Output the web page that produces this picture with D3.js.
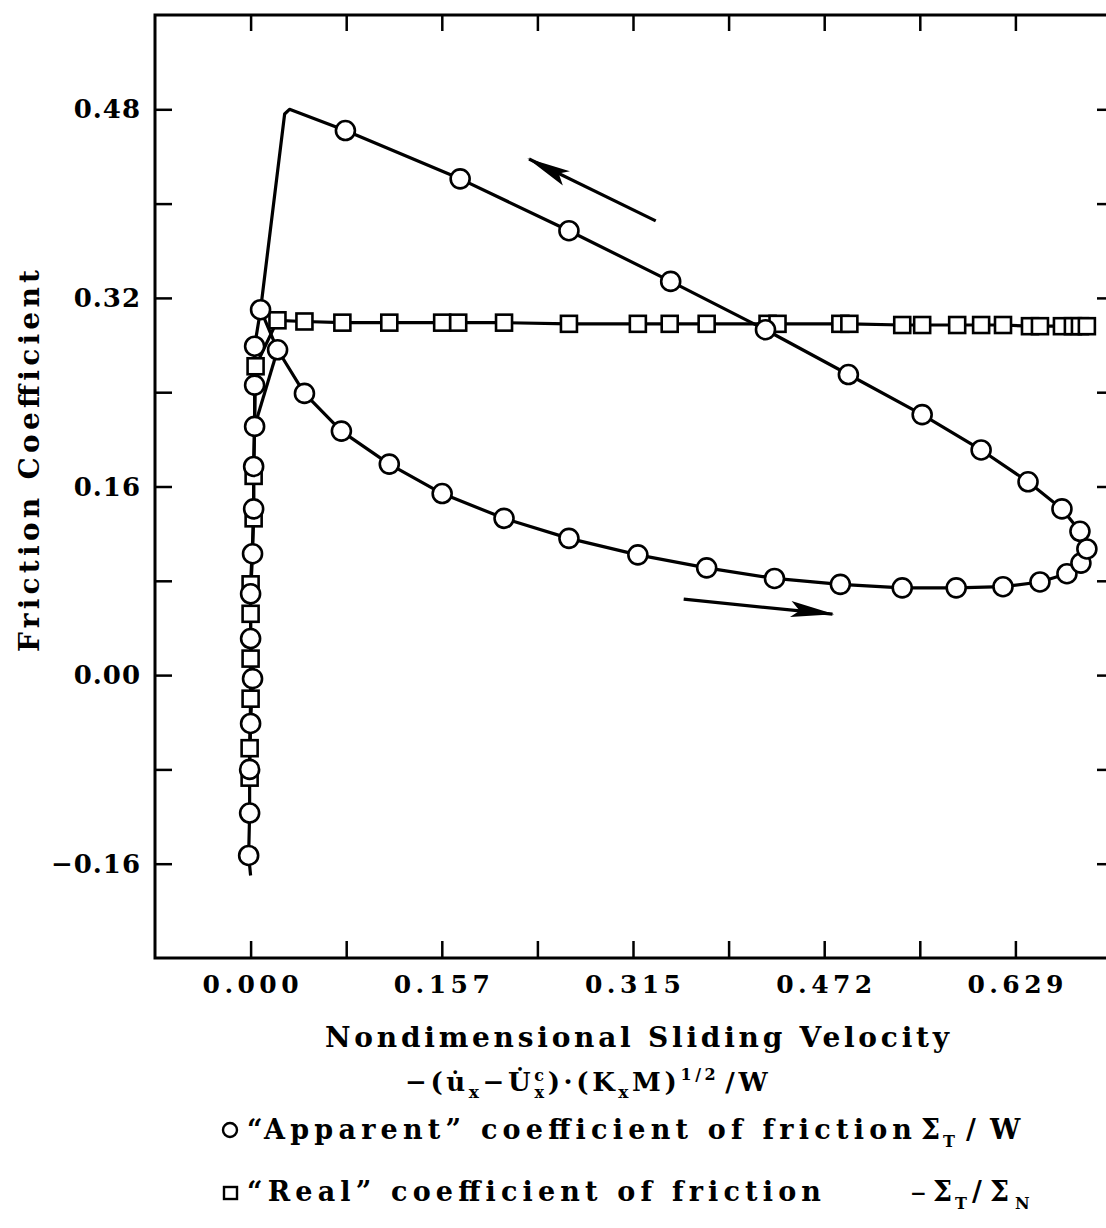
<!DOCTYPE html>
<html><head><meta charset="utf-8">
<script src="https://cdn.jsdelivr.net/npm/d3@7"></script>
<style>
html,body{margin:0;padding:0;background:#fff;}
svg{display:block;}
text{font-family:"DejaVu Serif",serif;font-weight:bold;fill:#000;}
</style></head><body>
<svg id="chart" width="1106" height="1228"></svg>
<script>
// ---- data ----
const xStep = 0.07865;
const xTickIndex = [-1,0,1,2,3,4,5,6,7,8,9];
const xLabelValues = [0, 0.1573, 0.3146, 0.4719, 0.6292];
const xTickLabels = ["0.000","0.157","0.315","0.472","0.629"];
const yTickValues = [-0.16,-0.08,0,0.08,0.16,0.24,0.32,0.40,0.48];
const yLabelValues = [-0.16,0,0.16,0.32,0.48];
const yTickLabels = ["\u22120.16","0.00","0.16","0.32","0.48"];

// "Apparent" coefficient (circles): ordered path
const appX = [0.0000,-0.0016,-0.0008,-0.0008,0.0000,0.0016,0.0000,0.0000,0.0016,0.0025,0.0025,0.0033,0.0033,0.0033,0.0082,0.0222,0.0443,0.0747,0.1141,0.1576,0.2085,0.2619,0.3186,0.3752,0.4310,0.4852,0.5361,0.5805,0.6190,0.6494,0.6716,0.6831,0.6880,0.6823,0.6675,0.6396,0.6010,0.5525,0.4918,0.4236,0.3456,0.2619,0.1724,0.0780,0.0320,0.0280,0.0082];
const appY = [-0.170,-0.153,-0.117,-0.080,-0.041,-0.003,0.031,0.069,0.103,0.141,0.177,0.211,0.246,0.279,0.310,0.276,0.239,0.207,0.179,0.154,0.133,0.116,0.102,0.091,0.082,0.077,0.074,0.074,0.075,0.079,0.086,0.095,0.107,0.122,0.141,0.164,0.191,0.221,0.255,0.293,0.334,0.377,0.421,0.462,0.480,0.476,0.310];
const appMark = [0,1,1,1,1,1,1,1,1,1,1,1,1,1,1,1,1,1,1,1,1,1,1,1,1,1,1,1,1,1,1,1,1,1,1,1,1,1,1,1,1,1,1,1,0,0,0];
const appLinkX = [0.0033, 0.0222];
const appLinkY = [0.211, 0.276];

// "Real" coefficient (squares)
const realX = [-0.0008,-0.0008,0.0000,0.0000,0.0000,0.0000,0.0025,0.0025,0.0041,0.0221,0.0443,0.0755,0.1141,0.1576,0.1708,0.2085,0.2619,0.3186,0.3448,0.3752,0.4253,0.4335,0.4852,0.4926,0.5361,0.5525,0.5813,0.6010,0.6190,0.6412,0.6494,0.6675,0.6765,0.6823,0.6880];
const realY = [-0.087,-0.062,-0.020,0.014,0.052,0.077,0.133,0.169,0.262,0.301,0.300,0.299,0.299,0.299,0.299,0.299,0.298,0.298,0.298,0.298,0.298,0.298,0.298,0.298,0.297,0.297,0.297,0.297,0.297,0.296,0.296,0.296,0.296,0.296,0.296];

// direction arrows (data coordinates)
const arrowFromX = [0.3333, 0.3563];
const arrowFromY = [0.3853, 0.0644];
const arrowToX = [0.2291, 0.4787];
const arrowToY = [0.4378, 0.0517];

// ---- drawing ----
const svg = d3.select("#chart");
const x = d3.scaleLinear().domain([-xStep, 9*xStep]).range([155, 1111]);
const y = d3.scaleLinear().domain([-0.24, 0.56]).range([958, 15]);

// frame
svg.append("rect").attr("x",155).attr("y",15).attr("width",1111-155).attr("height",958-15)
  .attr("fill","none").attr("stroke","#000").attr("stroke-width",3);

const tickVals = xTickIndex.slice(1,-1).map(i=>i*xStep);
function styleAxis(g){ g.select(".domain").remove(); g.selectAll("line").attr("stroke","#000").attr("stroke-width",2.5); g.selectAll("text").remove(); }
svg.append("g").attr("transform","translate(0,958)").call(d3.axisBottom(x).tickValues(tickVals).tickSize(-17)).call(styleAxis);
svg.append("g").attr("transform","translate(0,15)").call(d3.axisTop(x).tickValues(tickVals).tickSize(-16)).call(styleAxis);
svg.append("g").attr("transform","translate(155,0)").call(d3.axisLeft(y).tickValues(yTickValues).tickSize(-17)).call(styleAxis);
svg.append("g").attr("transform","translate(1111,0)").call(d3.axisRight(y).tickValues(yTickValues).tickSize(-14)).call(styleAxis);

// tick labels
svg.append("g").selectAll("text").data(xLabelValues).join("text")
  .attr("x",d=>x(d)).attr("y",993).attr("text-anchor","middle")
  .attr("font-size",25).attr("textLength",96).attr("lengthAdjust","spacing")
  .text((d,i)=>xTickLabels[i]);
svg.append("g").selectAll("text").data(yLabelValues).join("text")
  .attr("x",141).attr("y",d=>y(d)+9).attr("text-anchor","end")
  .attr("font-size",26).attr("letter-spacing",1)
  .text((d,i)=>yTickLabels[i]);

// axis titles
svg.append("text").attr("transform","translate(39,461) rotate(-90)").attr("text-anchor","middle")
  .attr("font-size",28).attr("textLength",382).attr("lengthAdjust","spacing").text("Friction Coefficient");
svg.append("text").attr("x",637).attr("y",1047).attr("text-anchor","middle")
  .attr("font-size",28).attr("textLength",624).attr("lengthAdjust","spacing").text("Nondimensional Sliding Velocity");

// formula
const f = svg.append("text").attr("x",405).attr("y",1091).attr("font-size",26).attr("letter-spacing",3.6);
f.append("tspan").text("\u2212(u\u0307");
f.append("tspan").attr("font-size",17).attr("dy",7).text("x");
f.append("tspan").attr("dy",-7).text("\u2212U\u0307");
f.append("tspan").attr("font-size",16).attr("dy",-10).text("c");
f.append("tspan").attr("font-size",16).attr("dx",-13).attr("dy",17).text("x");
f.append("tspan").attr("dy",-7).text(")\u00b7(K");
f.append("tspan").attr("font-size",17).attr("dy",7).text("x");
f.append("tspan").attr("dy",-7).text("M)");
f.append("tspan").attr("font-size",16).attr("dy",-11).text("1/2");
f.append("tspan").attr("dy",11).attr("dx",6).text("/W");

// legend
const leg1Y = 1139, leg2Y = 1201;
svg.append("circle").attr("cx",230).attr("cy",leg1Y-9).attr("r",7).attr("fill","#fff").attr("stroke","#000").attr("stroke-width",2.4);
svg.append("text").attr("x",247).attr("y",leg1Y).attr("font-size",27).attr("textLength",665).attr("lengthAdjust","spacing")
  .text("\u201cApparent\u201d coefficient of friction");
svg.append("text").attr("x",921).attr("y",leg1Y).attr("font-size",27).text("\u03a3");
svg.append("text").attr("x",943).attr("y",leg1Y+8).attr("font-size",16).text("T");
svg.append("text").attr("x",966).attr("y",leg1Y).attr("font-size",27).text("/");
svg.append("text").attr("x",990).attr("y",leg1Y).attr("font-size",27).text("W");

svg.append("rect").attr("x",224).attr("y",leg2Y-14).attr("width",13).attr("height",12).attr("fill","#fff").attr("stroke","#000").attr("stroke-width",2.4);
svg.append("text").attr("x",247).attr("y",leg2Y).attr("font-size",27).attr("textLength",574).attr("lengthAdjust","spacing")
  .text("\u201cReal\u201d coefficient of friction");
svg.append("text").attr("x",910).attr("y",leg2Y-1).attr("font-size",20).text("\u2212");
svg.append("text").attr("x",933).attr("y",leg2Y).attr("font-size",27).text("\u03a3");
svg.append("text").attr("x",955).attr("y",leg2Y+8).attr("font-size",16).text("T");
svg.append("text").attr("x",972).attr("y",leg2Y).attr("font-size",27).text("/");
svg.append("text").attr("x",990).attr("y",leg2Y).attr("font-size",27).text("\u03a3");
svg.append("text").attr("x",1015).attr("y",leg2Y+8).attr("font-size",16).text("N");

// arrows
const defs = svg.append("defs");
defs.append("marker").attr("id","ah").attr("markerUnits","userSpaceOnUse")
  .attr("viewBox","-46 -10 50 20").attr("refX",0).attr("refY",0)
  .attr("markerWidth",50).attr("markerHeight",20).attr("orient","auto")
  .append("path").attr("d","M2,0 L-42,-9 L-33,0 L-42,7 Z").attr("fill","#000");
svg.append("g").selectAll("line").data(arrowFromX).join("line")
  .attr("x1",(d,i)=>x(arrowFromX[i])).attr("y1",(d,i)=>y(arrowFromY[i]))
  .attr("x2",(d,i)=>x(arrowToX[i])).attr("y2",(d,i)=>y(arrowToY[i]))
  .attr("stroke","#000").attr("stroke-width",3.2).attr("marker-end","url(#ah)");

// series lines
const line = d3.line().x(d=>x(d[0])).y(d=>y(d[1]));
const realPts = realX.map((v,i)=>[v,realY[i]]);
const appPts = appX.map((v,i)=>[v,appY[i]]);
const linkPts = appLinkX.map((v,i)=>[v,appLinkY[i]]);
svg.append("path").attr("d",line(realPts)).attr("fill","none").attr("stroke","#000").attr("stroke-width",3.2);
svg.append("path").attr("d",line(appPts)).attr("fill","none").attr("stroke","#000").attr("stroke-width",3.2).attr("stroke-linejoin","round");
svg.append("path").attr("d",line(linkPts)).attr("fill","none").attr("stroke","#000").attr("stroke-width",3.2);

// markers
svg.append("g").selectAll("rect").data(realPts).join("rect")
  .attr("x",d=>x(d[0])-8).attr("y",d=>y(d[1])-8).attr("width",16).attr("height",16)
  .attr("fill","#fff").attr("stroke","#000").attr("stroke-width",2.6);
svg.append("g").selectAll("circle").data(appPts.filter((d,i)=>appMark[i])).join("circle")
  .attr("cx",d=>x(d[0])).attr("cy",d=>y(d[1])).attr("r",9.5)
  .attr("fill","#fff").attr("stroke","#000").attr("stroke-width",2.6);
</script>
</body></html>
